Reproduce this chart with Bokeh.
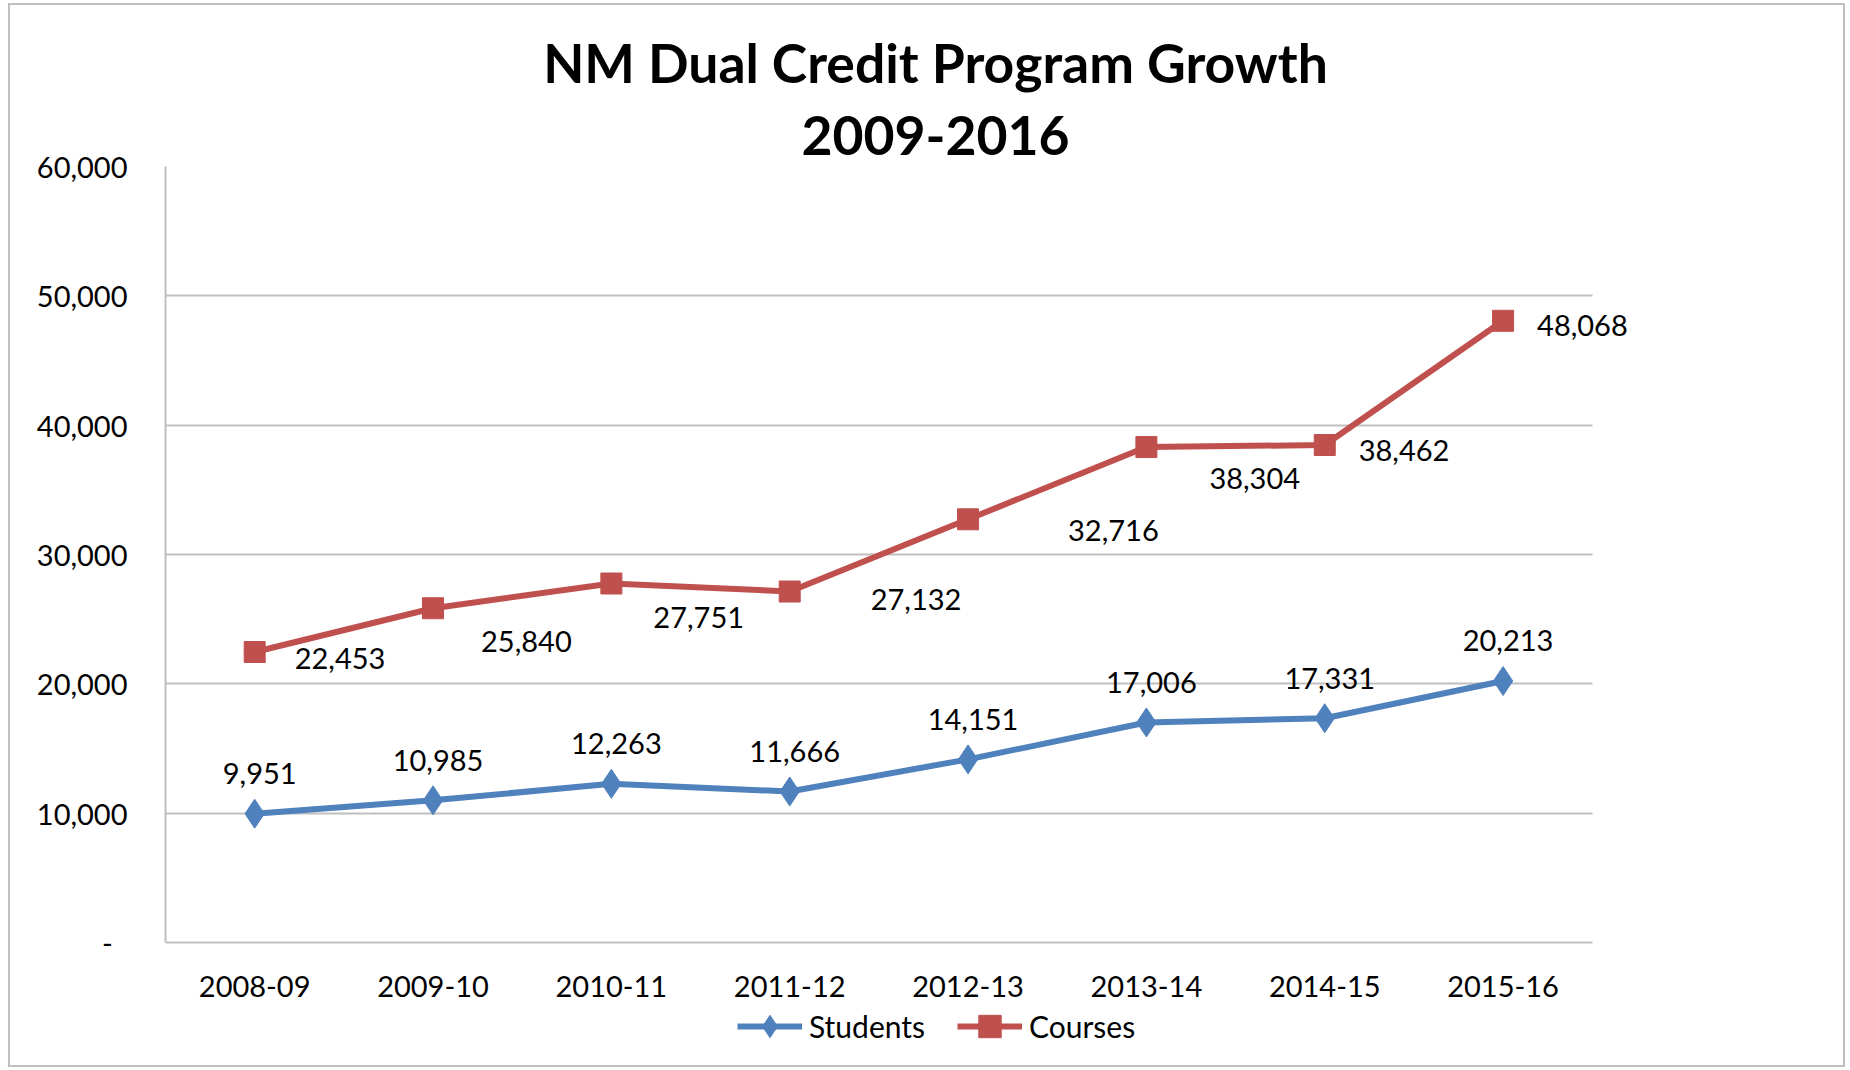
from bokeh.plotting import figure
from bokeh.models import (ColumnDataSource, Range1d, FixedTicker,
                          LabelSet, Legend, LegendItem, Title)
from bokeh.core.properties import value
from bokeh.embed import file_html
from bokeh.resources import INLINE

# ---- data ----
years = ["2008-09", "2009-10", "2010-11", "2011-12", "2012-13", "2013-14", "2014-15", "2015-16"]
students = [9951, 10985, 12263, 11666, 14151, 17006, 17331, 20213]
courses = [22453, 25840, 27751, 27132, 32716, 38304, 38462, 48068]
y_ticks = [0, 10000, 20000, 30000, 40000, 50000, 60000]
y_tick_labels = ["-\u00a0\u00a0", "10,000", "20,000", "30,000", "40,000", "50,000", "60,000"]
title_line1 = "NM Dual Credit Program Growth"
title_line2 = "2009-2016"
series_names = ["Students", "Courses"]

# ---- styling / layout (screen px) ----
course_dx = [40, 48, 42, 81, 100, 63, 34, 34]
course_dy = [-6, -33, -34, -8, -11, -31, -5, -5]
BLUE = "#4F81BD"
RED = "#C0504D"
GRID = "#BFBFBF"
FONT = "Lato"
LBL = "29px"
PLOT_PX = 775      # pixel height of the 0..max value area
BELOW_PX = 122     # room under the zero line for category labels + legend

n = len(years)
x_idx = list(range(n))
y_max = y_ticks[-1]
y_lo = -BELOW_PX * y_max / PLOT_PX

src = ColumnDataSource(dict(
    x=x_idx, s=students, c=courses, cat=years, base=[y_ticks[0]] * n,
    s_lab=[f"{v:,}" for v in students],
    c_lab=[f"{v:,}" for v in courses],
    cdx=course_dx, cdy=course_dy,
))

p = figure(width=1837, height=1064, x_range=Range1d(-0.5, n - 0.5 + 0.635),
           y_range=Range1d(y_lo, y_max), output_backend="svg", toolbar_location=None,
           x_axis_location=None,
           min_border_left=155, min_border_right=142, min_border_top=161,
           min_border_bottom=5, title=None)
p.styles = {"border": "2px solid #BFBFBF", "margin": "3px 0px 0px 8px"}
p.outline_line_color = None
p.background_fill_color = "white"
p.border_fill_color = "white"

# titles
p.add_layout(Title(text=title_line2, align="center", text_font=FONT, text_font_size="53.5px",
                   text_font_style="bold", text_color="black", standoff=23), "above")
p.add_layout(Title(text=title_line1, align="center", text_font=FONT, text_font_size="53.5px",
                   text_font_style="bold", text_color="black", standoff=18), "above")

# y axis
p.yaxis.ticker = FixedTicker(ticks=y_ticks)
p.yaxis.major_label_overrides = {t: l for t, l in zip(y_ticks, y_tick_labels)}
p.yaxis.bounds = (y_ticks[0], y_max)
ax = p.yaxis[0]
ax.axis_line_color = GRID
ax.axis_line_width = 2
ax.major_tick_line_color = None
ax.minor_tick_line_color = None
ax.major_tick_out = 0
ax.major_tick_in = 0
ax.minor_tick_out = 0
ax.major_label_text_font = FONT
ax.major_label_text_font_size = LBL
ax.major_label_text_color = "black"
ax.major_label_standoff = 38

p.xgrid.grid_line_color = None
p.ygrid.grid_line_color = GRID
p.ygrid.grid_line_width = 2
p.ygrid.ticker = FixedTicker(ticks=y_ticks)
p.ygrid.cross_bounds = (-0.5, n - 0.5)

# category labels under the zero line
p.add_layout(LabelSet(x="x", y="base", text="cat", source=src, y_offset=-44,
                      text_align="center", text_baseline="middle", text_font=value(FONT),
                      text_font_size=value(LBL), text_color="black"))

# series
ls = p.line("x", "s", source=src, line_color=BLUE, line_width=6)
ms = p.scatter("x", "s", source=src, marker="diamond", size=29, fill_color=BLUE, line_color=BLUE)
lc = p.line("x", "c", source=src, line_color=RED, line_width=6)
mc = p.scatter("x", "c", source=src, marker="square", size=21, fill_color=RED, line_color=RED)

# data labels
p.add_layout(LabelSet(x="x", y="s", text="s_lab", source=src, x_offset=5, y_offset=40,
                      text_align="center", text_baseline="middle", text_font=value(FONT),
                      text_font_size=value(LBL), text_color="black"))
p.add_layout(LabelSet(x="x", y="c", text="c_lab", source=src, x_offset="cdx", y_offset="cdy",
                      text_align="left", text_baseline="middle", text_font=value(FONT),
                      text_font_size=value(LBL), text_color="black"))

legend = Legend(items=[LegendItem(label=series_names[0], renderers=[ls, ms]),
                       LegendItem(label=series_names[1], renderers=[lc, mc])],
                orientation="horizontal", location=(572, 10),
                border_line_color=None, background_fill_alpha=0,
                label_text_font=FONT, label_text_font_size="30px", label_text_color="black",
                glyph_width=65, glyph_height=56, label_standoff=7, spacing=32,
                padding=0, margin=0)
p.add_layout(legend, "center")

open("out.html", "w").write(file_html(p, INLINE))
